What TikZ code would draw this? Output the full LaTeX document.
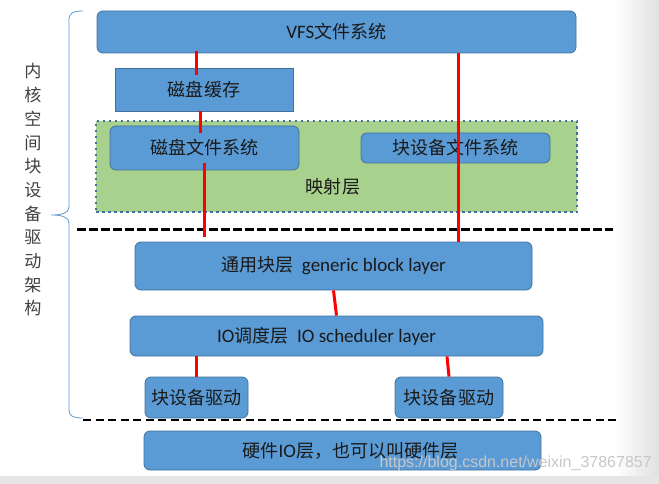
\documentclass[tikz,border=0pt]{standalone}
\usepackage{fontspec}
\setmainfont{Carlito}
\newfontfamily\cjk[Scale=0.95]{Noto Sans CJK SC}
\newfontfamily\wmfont{Liberation Sans}
\newcommand{\zh}[1]{{\cjk #1}}
\definecolor{boxblue}{HTML}{5B9BD5}
\definecolor{boxedge}{HTML}{41719C}
\definecolor{mapgreen}{HTML}{A9D18E}
\definecolor{linkred}{HTML}{FF0000}
\tikzset{
  centered/.style = { align=center, anchor=center },
     layer/.style = { centered, draw=boxedge, fill=boxblue, line width=0.8pt,
                      rounded corners=6pt, inner sep=0pt, text=black!90,
                      font=\fontsize{19}{22}\selectfont },
     cache/.style = { layer, rounded corners=0pt },
  mapframe/.style = { fill=mapgreen, draw=boxedge, line width=2.5pt,
                      dash pattern=on 2.5pt off 3.5pt },
      link/.style = { line width=3pt, color=linkred },
     bound/.style = { black, line width=3pt, dash pattern=on 9pt off 3pt },
    bound2/.style = { black, line width=2pt, dash pattern=on 8pt off 4.5pt },
    vlabel/.style = { centered, text=black!75,
                      font=\cjk\fontsize{18}{23.7}\selectfont }
}
\begin{document}
\begin{tikzpicture}[x=1pt,y=1pt]
  \useasboundingbox (0,0) rectangle (659,-484);
  % page edge shading
  \shade[left color=white, right color=black!12] (615,0) rectangle (659,-476);
  \fill[black!10] (0,-476) rectangle (659,-484);

  % brace and side label
  \draw[boxblue, line width=0.8pt]
    (83,-11) .. controls (73,-11) and (69,-13) .. (69,-20) -- (69,-207)
    .. controls (69,-213) and (62,-215) .. (51,-215)
    .. controls (62,-215) and (69,-217) .. (69,-223) -- (69,-410)
    .. controls (69,-416) and (73,-418) .. (83,-418);
  \node[vlabel] (kernel) at (33,-190) {内\\核\\空\\间\\块\\设\\备\\驱\\动\\架\\构};

  % mapping layer
  \node[mapframe, minimum width=481pt, minimum height=91pt, inner sep=0pt]
    (map) at (336.5,-166.5) {};
  \node[centered, text=black!90, font=\cjk\fontsize{19}{22}\selectfont]
    (maptext) at (333,-187) {映射层};

  % layers
  \node[layer, minimum width=479pt, minimum height=42pt] (vfs)     at (336.5,-32)  {VFS\zh{文件系统}};
  \node[cache, minimum width=178pt, minimum height=43pt] (cache)   at (204,-89.5)  {\zh{磁盘缓存}};
  \node[layer, minimum width=189pt, minimum height=44pt] (diskfs)  at (204.5,-148) {\zh{磁盘文件系统}};
  \node[layer, minimum width=189pt, minimum height=30pt] (blkfs)   at (455.5,-148) {\zh{块设备文件系统}};
  \node[layer, minimum width=397pt, minimum height=48pt] (generic) at (333.5,-266) {\zh{通用块层}\ \ generic block layer};
  \node[layer, minimum width=413pt, minimum height=40pt] (sched)   at (336.5,-336) {IO\zh{调度层}\ \ IO scheduler layer\hspace*{20pt}};
  \node[layer, minimum width=103pt, minimum height=41pt] (drvL)    at (196.5,-397.5) {\zh{块设备驱动}};
  \node[layer, minimum width=108pt, minimum height=41pt] (drvR)    at (449,-397.5) {\zh{块设备驱动}};
  \node[layer, minimum width=397pt, minimum height=39pt] (hw)      at (342.5,-450.5) {\hspace*{16pt}\zh{硬件}IO\zh{层，也可以叫硬件层}};

  % boundaries
  \coordinate (kernelL) at (77,-229);
  \coordinate (kernelR) at (613,-229);
  \coordinate (hwL) at (83,-420);
  \coordinate (hwR) at (620,-420);
  \draw[bound]  (kernelL) -- (kernelR);
  \draw[bound2] (hwL) -- (hwR);

  % links
  \draw[link, shorten <=-2pt, shorten >=-7pt] ([xshift=-8pt]cache.north |- vfs.south) -- ([xshift=-8pt]cache.north);
  \draw[link, shorten >=-7pt] ([xshift=-4.5pt]diskfs.north |- cache.south) -- ([xshift=-4.5pt]diskfs.north);
  \draw[link, shorten <=-7pt, shorten >=5pt] ([xshift=-0.5pt]diskfs.south) -- ([xshift=-0.5pt]diskfs.south |- generic.north);
  \draw[link] ([xshift=121.5pt]vfs.south) -- ([xshift=121.5pt]vfs.south |- generic.north);
  \draw[link] (generic.south) -- (sched.north);
  \draw[link] (drvL.north |- sched.south) -- (drvL.north);
  \draw[link] ([xshift=-2pt]drvR.north |- sched.south) -- (drvR.north);

  % watermark
  \node[anchor=west, text=black!22, font=\wmfont\fontsize{16}{18}\selectfont]
    (mark) at (376,-463) {https://blog.csdn.net/weixin\_37867857};
\end{tikzpicture}
\end{document}
